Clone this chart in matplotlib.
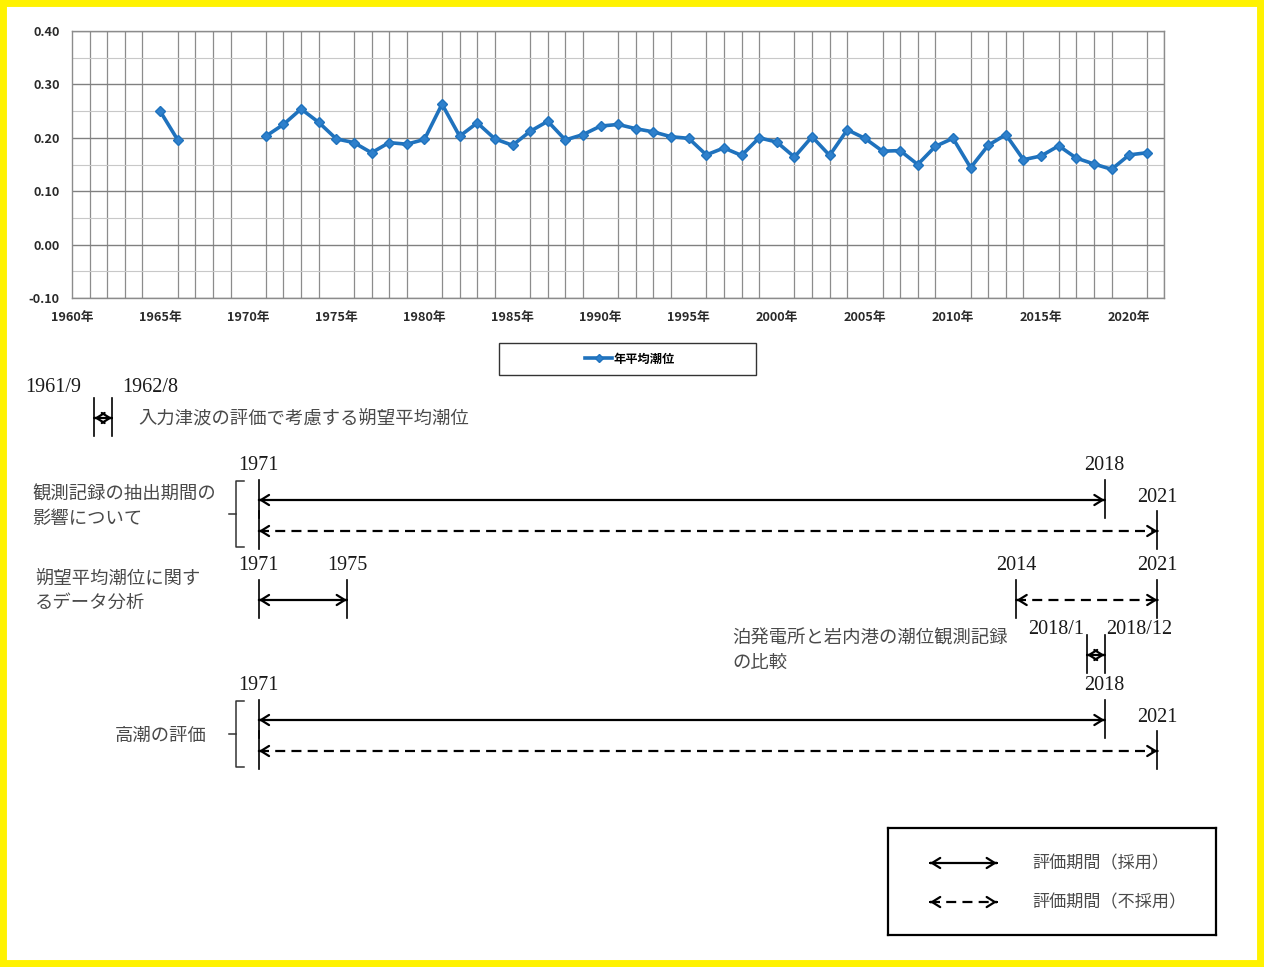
import numpy as np
import matplotlib
matplotlib.use("Agg")
import matplotlib.pyplot as plt
from matplotlib.patches import Rectangle

plt.rcParams['font.family'] = ['Noto Sans CJK JP', 'DejaVu Sans']

# annual mean tide level (m), gap 1967-1970
years = list(range(1965, 2022))
tide = [0.250, 0.196, np.nan, np.nan, np.nan, np.nan,
        0.203, 0.225, 0.254, 0.229, 0.198, 0.191, 0.172, 0.191, 0.188, 0.197,
        0.263, 0.203, 0.228, 0.198, 0.186, 0.212, 0.231, 0.196, 0.206, 0.222,
        0.225, 0.217, 0.211, 0.202, 0.199, 0.168, 0.181, 0.167, 0.200, 0.192,
        0.164, 0.202, 0.167, 0.215, 0.199, 0.175, 0.176, 0.150, 0.184, 0.199,
        0.144, 0.186, 0.206, 0.159, 0.166, 0.185, 0.162, 0.151, 0.141, 0.168,
        0.172]
series_name = "年平均潮位"

# evaluation periods shown under the chart
row_texts = ["入力津波の評価で考慮する朔望平均潮位",
             "観測記録の抽出期間の\n影響について",
             "朔望平均潮位に関す\nるデータ分析",
             "泊発電所と岩内港の潮位観測記録\nの比較",
             "高潮の評価"]
period_row = [0, 1, 1, 2, 2, 3, 4, 4]
period_start = ["1961/9", "1971", "1971", "1971", "2014", "2018/1", "1971", "1971"]
period_end = ["1962/8", "2018", "2021", "1975", "2021", "2018/12", "2018", "2021"]
period_adopted = [True, True, False, True, False, True, True, False]
legend_texts = ["評価期間（採用）", "評価期間（不採用）"]

W, H = 1264, 967
fig = plt.figure(figsize=(W / 100, H / 100), dpi=100)

# ---- top chart ----
px_per_year = 17.62
ax = fig.add_axes([72 / W, 1 - 298 / H, 62 * px_per_year / W, 267 / H])
ax.plot(years, tide, color="#1f72bd", lw=2.6, marker="D", ms=5.5,
        mec="#1f72bd", mfc="#2e80cc", label=series_name, zorder=3)
ax.set_xlim(1960, 2022)
ax.set_ylim(-0.10, 0.40)
ax.set_xticks(range(1960, 2021, 5))
ax.set_xticklabels([f"{y}年" for y in range(1960, 2021, 5)])
ax.set_xticks(range(1960, 2023), minor=True)
ax.set_yticks(np.arange(-0.1, 0.41, 0.1))
ax.set_yticklabels([f"{v:.2f}" for v in np.arange(-0.1, 0.41, 0.1)])
ax.set_yticks(np.arange(-0.05, 0.40, 0.1), minor=True)
ax.tick_params(length=0, which="both", labelsize=9.2, colors="#2a2a2a", pad=9)
for t in ax.get_xticklabels() + ax.get_yticklabels():
    t.set_fontweight("bold")
ax.grid(True, axis="y", which="major", color="#808080", lw=1)
ax.grid(True, axis="y", which="minor", color="#c8c8c8", lw=0.8)
ax.grid(True, axis="x", which="minor", color="#8c8c8c", lw=0.9)
for s in ax.spines.values():
    s.set_color("#8c8c8c")
    s.set_linewidth(1)

fig.add_artist(Rectangle((499 / W, 1 - 375 / H), 257 / W, 32 / H,
                         transform=fig.transFigure, fill=False, ec="#333333", lw=1))
h, l = ax.get_legend_handles_labels()
leg = fig.legend(h, l, loc="center", bbox_to_anchor=(630 / W, 1 - 359 / H), frameon=False,
                 fontsize=8.8, handlelength=2.2, markerscale=0.7, handletextpad=0.1)
for t in leg.get_texts():
    t.set_fontweight("bold")

# ---- period diagram ----
dax = fig.add_axes([0, 0, 1, 1])
x0 = 1960 - 65 / px_per_year
dax.set_xlim(x0, x0 + W / px_per_year)
dax.set_ylim(H, 0)
dax.axis("off")


def to_year(label, is_end):
    if "/" in label:
        y, m = label.split("/")
        return int(y) + (int(m) - (0 if is_end else 1)) / 12
    return int(label) + (1 if is_end else 0)


def span_arrow(a, xa, xb, y, dashed, eps):
    ls = (0, (4.5, 2.8)) if dashed else "-"
    a.plot([xa, xb], [y, y], color="k", lw=1.6, ls=ls, solid_capstyle="butt")
    for tip, tail in ((xa, xa + eps), (xb, xb - eps)):
        a.annotate("", xy=(tip, y), xytext=(tail, y),
                   arrowprops=dict(arrowstyle="->,head_length=0.45,head_width=0.28",
                                   lw=1.6, color="k", shrinkA=0, shrinkB=0,
                                   mutation_scale=13))


arrow_y = [418, 500, 531, 600, 600, 655, 720, 751]
# label placement for the short spans: (gap left, gap right, rise) in pixels
short_gap = {0: (13, 10, 31), 3: (3, 2, 26)}
num_font = dict(family="Liberation Serif", fontsize=14.5, color="#1a1a1a")
jp_font = dict(fontsize=13.2, color="#4a4a4a", linespacing=1.45)
drawn = set()
for i in range(len(period_row)):
    xs = to_year(period_start[i], False)
    xe = to_year(period_end[i], True)
    y = arrow_y[i]
    r = period_row[i]
    span_arrow(dax, xs, xe, y, not period_adopted[i], 0.01)
    for lab, xv, side in ((period_start[i], xs, -1), (period_end[i], xe, 1)):
        dax.plot([xv, xv], [y - 20, y + 18], color="k", lw=1.2)
        if (r, lab) in drawn:
            continue
        drawn.add((r, lab))
        if r in short_gap:
            gl, gr, rise = short_gap[r]
            off = (gl if side < 0 else gr) / px_per_year
            dax.text(xv + side * off, y - rise, lab, ha="right" if side < 0 else "left",
                     va="center", **num_font)
        else:
            dax.text(xv, y - 34, lab, ha="center", va="center", **num_font)

# row descriptions (pixel layout)
desc_pos = [(138, 419), (32, 507), (35, 591), (732, 651), (115, 736)]
for txt, (px, py) in zip(row_texts, desc_pos):
    dax.text(x0 + px / px_per_year, py, txt, ha="left", va="center", **jp_font)

# brackets for rows with two arrows
for r in (1, 4):
    ys = [arrow_y[i] for i in range(len(period_row)) if period_row[i] == r]
    xb = to_year("1971", False)
    bx = xb - 23 / px_per_year
    bt = xb - 15 / px_per_year
    bm = xb - 30 / px_per_year
    top, bot = min(ys) - 19, max(ys) + 16
    dax.plot([bt, bx, bx, bt], [top, top, bot, bot], color="#333333", lw=1.1)
    dax.plot([bm, bx], [(top + bot) / 2] * 2, color="#333333", lw=1.1)

# legend box bottom right
lax = fig.add_axes([888 / W, 1 - 935 / H, 328 / W, 107 / H])
lax.set_xlim(0, 1)
lax.set_ylim(0, 1)
lax.set_xticks([])
lax.set_yticks([])
for s in lax.spines.values():
    s.set_linewidth(1.6)
    s.set_color("k")
for j, (txt, ly) in enumerate(zip(legend_texts, (0.673, 0.308))):
    span_arrow(lax, 0.128, 0.332, ly, j == 1, 0.001)
    lax.text(0.439, ly, txt, ha="left", va="center", fontsize=12.3, color="#4a4a4a")

# yellow frame
fig.add_artist(Rectangle((0, 0), 1, 1, transform=fig.transFigure, fill=False,
                         ec="#fff200", lw=10))

fig.savefig("out.png", dpi=100)
